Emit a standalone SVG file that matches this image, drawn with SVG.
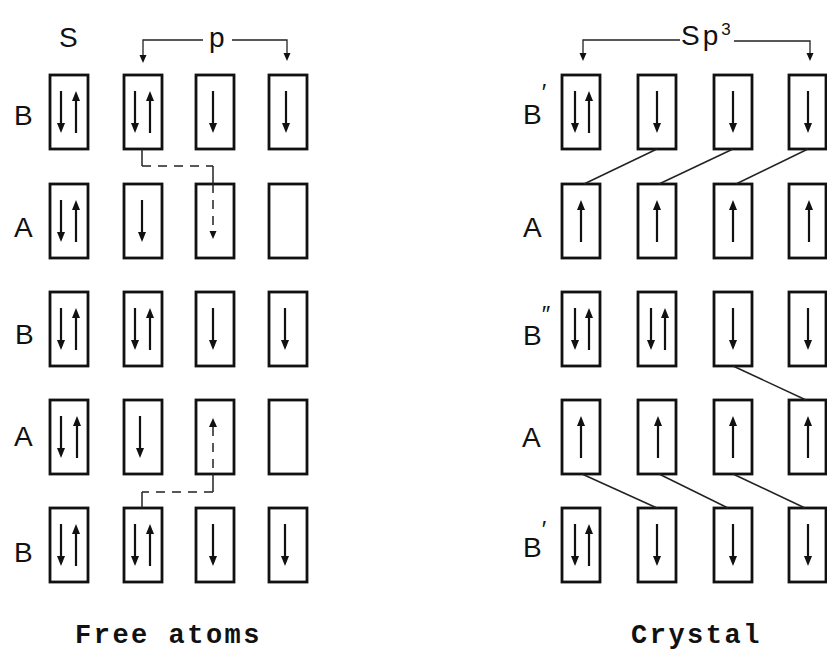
<svg xmlns="http://www.w3.org/2000/svg" xmlns:xlink="http://www.w3.org/1999/xlink" width="827" height="650" viewBox="0 0 827 650">
<style>
.box{fill:none;stroke:#111;stroke-width:2.8}
.ar line{stroke:#111;stroke-width:2.2}
.ar path{fill:#111;stroke:none}
.lbl{font-family:"Liberation Sans",Arial,sans-serif;font-size:28px;fill:#111}
.cap{font-family:"Liberation Mono","Courier New",monospace;font-size:27px;font-weight:bold;letter-spacing:2.5px;fill:#111}
.con{fill:none;stroke:#222;stroke-width:1.5}
.dash{fill:none;stroke:#222;stroke-width:1.5;stroke-dasharray:9 7}
.brk{fill:none;stroke:#222;stroke-width:1.3}
</style>
<defs>
<g id="dn" class="ar"><line x1="0" y1="-21" x2="0" y2="13"/><path d="M-4,11 L4,11 L0,21 Z"/></g>
<g id="up" class="ar"><line x1="0" y1="21" x2="0" y2="-13"/><path d="M-4,-11 L4,-11 L0,-21 Z"/></g>
<path id="hd" d="M-3.5,0 L3.5,0 L0,8 Z" fill="#111"/>
<path id="hu" d="M-4,0 L4,0 L0,-9 Z" fill="#111"/>
</defs>
<rect width="827" height="650" fill="#fff"/>

<!-- headers -->
<g id="hdr-s"><text class="lbl" x="59" y="47">S</text></g>
<g id="hdr-p">
<text class="lbl" x="209" y="47">p</text>
<path class="brk" d="M203,40 H143 V56 M232,40 H287 V54"/>
<use href="#hd" x="143" y="55"/><use href="#hd" x="287" y="53"/>
</g>
<g id="hdr-sp3">
<text class="lbl" x="681" y="45" letter-spacing="3">Sp<tspan font-size="17" dy="-10">3</tspan></text>
<path class="brk" d="M680,40 H583 V54 M734,41 H810 V54"/>
<use href="#hd" x="583" y="53"/><use href="#hd" x="810" y="53"/>
</g>

<!-- left row labels -->
<g id="lab-L1"><text class="lbl" x="14" y="125">B</text></g>
<g id="lab-L2"><text class="lbl" x="14" y="237">A</text></g>
<g id="lab-L3"><text class="lbl" x="15" y="344">B</text></g>
<g id="lab-L4"><text class="lbl" x="14" y="446">A</text></g>
<g id="lab-L5"><text class="lbl" x="14" y="562">B</text></g>

<!-- right row labels -->
<g id="lab-R1"><text class="lbl" x="523" y="124">B<tspan font-size="24" dy="-23">′</tspan></text></g>
<g id="lab-R2"><text class="lbl" x="523" y="237">A</text></g>
<g id="lab-R3"><text class="lbl" x="523" y="345">B<tspan font-size="24" dy="-22">″</tspan></text></g>
<g id="lab-R4"><text class="lbl" x="522" y="447">A</text></g>
<g id="lab-R5"><text class="lbl" x="523" y="557">B<tspan font-size="24" dy="-19">′</tspan></text></g>

<!-- LEFT: free atoms -->
<g id="L1c1"><rect class="box" x="50" y="75" width="38" height="74"/><use href="#dn" x="61" y="112"/><use href="#up" x="76" y="112"/></g>
<g id="L1c2"><rect class="box" x="124" y="75" width="38" height="74"/><use href="#dn" x="135" y="112"/><use href="#up" x="150" y="112"/></g>
<g id="L1c3"><rect class="box" x="196" y="75" width="38" height="74"/><use href="#dn" x="213" y="112"/></g>
<g id="L1c4"><rect class="box" x="269" y="75" width="38" height="74"/><use href="#dn" x="286" y="112"/></g>

<g id="L2c1"><rect class="box" x="50" y="184" width="38" height="74"/><use href="#dn" x="61" y="221"/><use href="#up" x="76" y="221"/></g>
<g id="L2c2"><rect class="box" x="124" y="184" width="38" height="74"/><use href="#dn" x="142" y="221"/></g>
<g id="L2c3"><rect class="box" x="196" y="184" width="38" height="74"/><line class="dash" x1="213" y1="184" x2="213" y2="232"/><use href="#hd" x="213" y="231"/></g>
<g id="L2c4"><rect class="box" x="269" y="184" width="38" height="74"/></g>

<g id="L3c1"><rect class="box" x="50" y="292" width="38" height="74"/><use href="#dn" x="61" y="329"/><use href="#up" x="76" y="329"/></g>
<g id="L3c2"><rect class="box" x="124" y="292" width="38" height="74"/><use href="#dn" x="135" y="329"/><use href="#up" x="150" y="329"/></g>
<g id="L3c3"><rect class="box" x="196" y="292" width="38" height="74"/><use href="#dn" x="213" y="329"/></g>
<g id="L3c4"><rect class="box" x="269" y="292" width="38" height="74"/><use href="#dn" x="285" y="329"/></g>

<g id="L4c1"><rect class="box" x="50" y="400" width="38" height="74"/><use href="#dn" x="61" y="437"/><use href="#up" x="77" y="437"/></g>
<g id="L4c2"><rect class="box" x="124" y="400" width="38" height="74"/><use href="#dn" x="140" y="437"/></g>
<g id="L4c3"><rect class="box" x="196" y="400" width="38" height="74"/><use href="#hu" x="213" y="427"/><line class="dash" x1="213" y1="427" x2="213" y2="474"/></g>
<g id="L4c4"><rect class="box" x="269" y="400" width="38" height="74"/></g>

<g id="L5c1"><rect class="box" x="50" y="508" width="38" height="74"/><use href="#dn" x="61" y="545"/><use href="#up" x="76" y="545"/></g>
<g id="L5c2"><rect class="box" x="124" y="508" width="38" height="74"/><use href="#dn" x="135" y="545"/><use href="#up" x="150" y="545"/></g>
<g id="L5c3"><rect class="box" x="196" y="508" width="38" height="74"/><use href="#dn" x="213" y="545"/></g>
<g id="L5c4"><rect class="box" x="269" y="508" width="38" height="74"/><use href="#dn" x="285" y="545"/></g>

<!-- RIGHT: crystal -->
<g id="R1c1"><rect class="box" x="562" y="75" width="38" height="74"/><use href="#dn" x="575" y="112"/><use href="#up" x="589" y="112"/></g>
<g id="R1c2"><rect class="box" x="638" y="75" width="38" height="74"/><use href="#dn" x="657" y="112"/></g>
<g id="R1c3"><rect class="box" x="714" y="75" width="38" height="74"/><use href="#dn" x="733" y="112"/></g>
<g id="R1c4"><rect class="box" x="789" y="75" width="37" height="74"/><use href="#dn" x="808" y="112"/></g>

<g id="R2c1"><rect class="box" x="562" y="184" width="38" height="74"/><use href="#up" x="581" y="221"/></g>
<g id="R2c2"><rect class="box" x="638" y="184" width="38" height="74"/><use href="#up" x="657" y="221"/></g>
<g id="R2c3"><rect class="box" x="714" y="184" width="38" height="74"/><use href="#up" x="733" y="221"/></g>
<g id="R2c4"><rect class="box" x="789" y="184" width="37" height="74"/><use href="#up" x="809" y="221"/></g>

<g id="R3c1"><rect class="box" x="562" y="292" width="38" height="74"/><use href="#dn" x="575" y="329"/><use href="#up" x="589" y="329"/></g>
<g id="R3c2"><rect class="box" x="638" y="292" width="38" height="74"/><use href="#dn" x="651" y="329"/><use href="#up" x="665" y="329"/></g>
<g id="R3c3"><rect class="box" x="714" y="292" width="38" height="74"/><use href="#dn" x="733" y="329"/></g>
<g id="R3c4"><rect class="box" x="789" y="292" width="37" height="74"/><use href="#dn" x="808" y="329"/></g>

<g id="R4c1"><rect class="box" x="562" y="400" width="38" height="74"/><use href="#up" x="581" y="437"/></g>
<g id="R4c2"><rect class="box" x="638" y="400" width="38" height="74"/><use href="#up" x="658" y="437"/></g>
<g id="R4c3"><rect class="box" x="714" y="400" width="38" height="74"/><use href="#up" x="733" y="437"/></g>
<g id="R4c4"><rect class="box" x="789" y="400" width="37" height="74"/><use href="#up" x="808" y="437"/></g>

<g id="R5c1"><rect class="box" x="562" y="508" width="38" height="74"/><use href="#dn" x="575" y="545"/><use href="#up" x="589" y="545"/></g>
<g id="R5c2"><rect class="box" x="638" y="508" width="38" height="74"/><use href="#dn" x="657" y="545"/></g>
<g id="R5c3"><rect class="box" x="714" y="508" width="38" height="74"/><use href="#dn" x="733" y="545"/></g>
<g id="R5c4"><rect class="box" x="789" y="508" width="37" height="74"/><use href="#dn" x="808" y="545"/></g>

<!-- connectors -->
<g id="connectors">
<path class="con" d="M142,149 V166"/>
<path class="dash" d="M142,166 H213"/>
<path class="con" d="M213,166 V184"/>
<path class="con" d="M213,474 V492"/>
<path class="dash" d="M213,492 H142"/>
<path class="con" d="M142,492 V508"/>
<line class="con" x1="657" y1="149" x2="584" y2="184"/>
<line class="con" x1="733" y1="149" x2="659" y2="184"/>
<line class="con" x1="808" y1="149" x2="736" y2="184"/>
<line class="con" x1="733" y1="366" x2="806" y2="400"/>
<line class="con" x1="582" y1="474" x2="657" y2="508"/>
<line class="con" x1="659" y1="474" x2="728" y2="508"/>
<line class="con" x1="733" y1="474" x2="805" y2="508"/>
</g>

<!-- captions -->
<g id="cap-free"><text class="cap" x="75" y="643">Free atoms</text></g>
<g id="cap-crystal"><text class="cap" x="631" y="643">Crystal</text></g>
</svg>
